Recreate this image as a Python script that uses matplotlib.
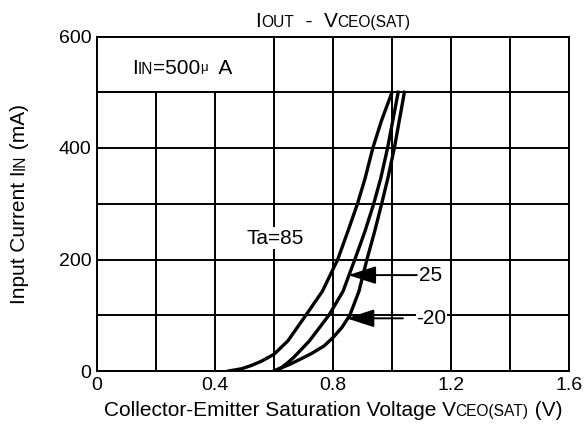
import matplotlib
matplotlib.use("Agg")
import matplotlib.pyplot as plt
import numpy as np

plt.rcParams['font.family'] = ['Liberation Sans', 'DejaVu Sans']

# curves (V, mA)
v_85 = [0.446, 0.49, 0.524, 0.559, 0.60, 0.647, 0.708, 0.764, 0.816, 0.85, 0.883, 0.909, 0.935, 0.965, 1.0]
i_85 = [0, 4, 10, 18, 30, 54, 100, 143, 200, 250, 300, 346, 400, 450, 500]
v_25 = [0.6, 0.625, 0.647, 0.668, 0.72, 0.786, 0.834, 0.874, 0.908, 0.938, 0.962, 0.985, 1.003, 1.021]
i_25 = [0, 6, 15, 25, 54, 100, 143, 200, 250, 300, 346, 400, 450, 500]
v_m20 = [0.6, 0.658, 0.726, 0.77, 0.8, 0.83, 0.857, 0.888, 0.915, 0.941, 0.965, 0.986, 1.008, 1.042]
i_m20 = [0, 13, 31, 45, 60, 78, 100, 143, 200, 250, 300, 346, 400, 500]

x_ticks = [0, 0.4, 0.8, 1.2, 1.6]
x_tick_labels = ['0', '0.4', '0.8', '1.2', '1.6']
y_ticks = [0, 200, 400, 600]
y_tick_labels = ['0', '200', '400', '600']

W, H = 584, 441
fig = plt.figure(figsize=(W / 100, H / 100), dpi=100)
ax = fig.add_axes([97 / W, 1 - 371 / H, (569 - 97) / W, (371 - 36.5) / H])

ax.set_xlim(0, 1.6)
ax.set_ylim(0, 600)
ax.set_xticks(x_ticks)
ax.set_xticklabels(x_tick_labels)
ax.set_yticks(y_ticks)
ax.set_yticklabels(y_tick_labels)
ax.set_xticks(np.arange(0, 1.61, 0.2), minor=True)
ax.set_yticks(np.arange(0, 601, 100), minor=True)
ax.tick_params(which='both', length=0, labelsize=14, pad=4)
ax.grid(which='both', color='black', lw=1.4)
for s in ax.spines.values():
    s.set_linewidth(1.4)

for v, i in [(v_85, i_85), (v_25, i_25), (v_m20, i_m20)]:
    ax.plot(v, i, color='black', lw=2.4, solid_joinstyle='round', zorder=3)

# condition box in the top-left
ax.add_patch(plt.Rectangle((0, 500), 0.6, 100, facecolor='white', edgecolor='black',
                           lw=1.4, zorder=4, clip_on=False))

ax.text(0.603, 238, 'Ta=85', fontsize=15, ha='center', va='center', zorder=5,
        bbox=dict(facecolor='white', edgecolor='none', pad=1))

arrow = dict(arrowstyle='-|>,head_length=1.7,head_width=0.55', mutation_scale=10,
             color='black', lw=1.4, shrinkA=0, shrinkB=0)
ax.annotate('', xy=(0.852, 172), xytext=(1.084, 172), arrowprops=arrow, zorder=5)
ax.text(1.093, 172, '25', fontsize=15, ha='left', va='center', zorder=5,
        bbox=dict(facecolor='white', edgecolor='none', pad=0.5))
ax.annotate('', xy=(0.846, 94.5), xytext=(1.037, 94.5), arrowprops=arrow, zorder=5)
ax.text(1.082, 94.5, '-20', fontsize=15, ha='left', va='center', zorder=5,
        bbox=dict(facecolor='white', edgecolor='none', pad=0.5))

renderer = fig.canvas.get_renderer()


def width_of(s, size):
    t = fig.text(0, 0, 'x' + s + 'x', fontsize=size)
    w1 = t.get_window_extent(renderer).width
    t.set_text('xx')
    w2 = t.get_window_extent(renderer).width
    t.remove()
    return w1 - w2


def rich(parts, cx, cy, rotation=0, zorder=6):
    # parts: (text, size, raise_px); cx, cy in display pixels (baseline)
    widths = [width_of(s, sz) for s, sz, _ in parts]
    total = sum(widths)
    pos = (cy if rotation else cx) - total / 2
    for (s, sz, up), w in zip(parts, widths):
        if rotation:
            x, y = cx - up, pos
        else:
            x, y = pos, cy + up
        fig.text(x / W, y / H, s, fontsize=sz, ha='left', va='baseline',
                 rotation=rotation, rotation_mode='anchor', zorder=zorder)
        pos += w


big, small = 15, 11.2
rich([('I', big, 0), ('OUT', small, 0), ('  -  ', big, 0), ('V', big, 0),
      ('CEO(SAT)', small, 0)], 333, H - 27)
rich([('Collector-Emitter Saturation Voltage V', big, 0), ('CEO(SAT)', small, 0),
      (' (V)', big, 0)], 333, H - 416)
rich([('Input Current I', big, 0), ('IN', small, 0), (' (mA)', big, 0)], 25, H - 204, rotation=90)
rich([('I', big, 0), ('IN', small, 0), ('=500', big, 0), ('\u03bc', 9.5, 4), ('  A', big, 0)],
     182, H - 74.5)

fig.savefig('out.png', dpi=100, facecolor='white')
